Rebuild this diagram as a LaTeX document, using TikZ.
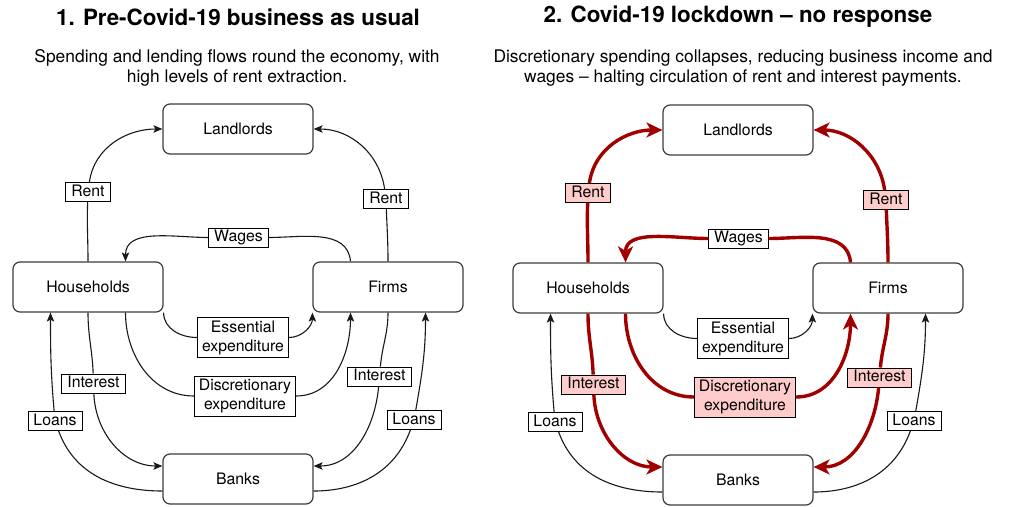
\documentclass[tikz,border=0pt]{standalone}
\usepackage{fontspec}
\setmainfont{TeX Gyre Heros}
\usetikzlibrary{arrows.meta}
\definecolor{hotred}{RGB}{160,0,0}
\definecolor{hotfill}{RGB}{255,204,204}
\definecolor{boxline}{RGB}{60,60,60}
\newcommand{\flowfont}{\fontsize{15.8}{19}\selectfont}

\begin{document}
\begin{tikzpicture}[x=1pt, y=-1pt, >={Stealth[length=9pt,width=7.5pt,inset=2pt]},
    sector/.style={draw=boxline, line width=1.2pt, rounded corners=7pt, fill=white,
      minimum width=150pt, minimum height=50pt, font=\flowfont},
    lbl/.style={draw, line width=0.9pt, fill=white, font=\flowfont,
      inner xsep=5.5pt, inner ysep=2pt, text height=11.5pt, text depth=3.5pt},
    lbltwo/.style={draw, line width=0.9pt, fill=white, font=\flowfont,
      inner xsep=4.5pt, inner ysep=3pt, align=center},
    flow/.style={draw=black!90, line width=1.1pt},
    hot/.style={draw=hotred, line width=3.4pt, >={Stealth[length=16pt,width=15pt,inset=4.5pt]}},
    title/.style={font=\fontsize{22.4}{26}\selectfont\bfseries},
    subtitle/.style={font=\fontsize{17.4}{20}\selectfont, align=center}]
  \useasboundingbox (0,0) rectangle (1009,506);

  % titles
  \node [title] (title1) at (238,17) {1. Pre-Covid-19 business as usual};
  \node [subtitle] (sub1) at (237,68) {Spending and lending flows round the economy, with\\high levels of rent extraction.};
  \node [title] (title2) at (738,17) {2. Covid-19 lockdown -- no response};
  \node [subtitle] (sub2) at (743,68) {Discretionary spending collapses, reducing business income and\\wages -- halting circulation of rent and interest payments.};

  % panel 1: business as usual
  \begin{scope}
    \node [sector] (land1) at (238,129) {Landlords};
    \node [sector] (hh1) at (88,287) {Households};
    \node [sector] (firm1) at (388,287) {Firms};
    \node [sector] (bank1) at (238,479) {Banks};

    \node [lbl] (rentA1) at (88,192) {Rent};
    \node [lbl] (rentB1) at (386,199) {Rent};
    \node [lbl] (wage1) at (238.5,237.5) {Wages};
    \node [lbltwo] (ess1) at (243,337.5) {Essential\\expenditure};
    \node [lbltwo] (disc1) at (245,396) {Discretionary\\expenditure};
    \node [lbl] (intA1) at (93.5,383.5) {Interest};
    \node [lbl] (intB1) at (379.5,376.5) {Interest};
    \node [lbl] (loanA1) at (55,421) {Loans};
    \node [lbl] (loanB1) at (414,420) {Loans};

    \draw [flow] (hh1.north) to[out=90,in=-92] (rentA1);
    \draw [flow,->] (rentA1) to[out=82,in=180] (land1.west);
    \draw [flow] (firm1.north) to[out=90,in=-88] (rentB1);
    \draw [flow,->] (rentB1) to[out=98,in=0] (land1.east);
    \draw [flow] ([xshift=-37.5pt]firm1.north) to[out=95,in=0] (wage1);
    \draw [flow,->] (wage1) to[out=180,in=90] ([xshift=37.5pt]hh1.north);
    \draw [flow] (hh1.south east) to[out=-90,in=180] (ess1);
    \draw [flow,->] (ess1) to[out=0,in=-90] (firm1.south west);
    \draw [flow] ([xshift=37.5pt]hh1.south) to[out=-90,in=180] (disc1);
    \draw [flow,->] (disc1) to[out=0,in=-90] ([xshift=-37.5pt]firm1.south);
    \draw [flow] (hh1.south) to[out=-90,in=92] (intA1);
    \draw [flow,->] (intA1) to[out=-88,in=180] ([yshift=13pt]bank1.west);
    \draw [flow] ([yshift=-12pt]bank1.west) to[out=180,in=-70] (loanA1);
    \draw [flow,->] (loanA1) to[out=95,in=-90] ([xshift=-37.5pt]hh1.south);
    \draw [flow] (firm1.south) to[out=-90,in=85] (intB1);
    \draw [flow,->] (intB1) to[out=-95,in=0] ([yshift=13pt]bank1.east);
    \draw [flow] ([yshift=-12pt]bank1.east) to[out=0,in=-110] (loanB1);
    \draw [flow,->] (loanB1) to[out=80,in=-90] ([xshift=37.5pt]firm1.south);
  \end{scope}

  % panel 2: lockdown, red flows stall
  \begin{scope}[shift={(500,1)}]
    \node [sector] (land2) at (238,129) {Landlords};
    \node [sector] (hh2) at (88,287) {Households};
    \node [sector] (firm2) at (388,287) {Firms};
    \node [sector] (bank2) at (238,479) {Banks};

    \node [lbl, fill=hotfill] (rentA2) at (88,192) {Rent};
    \node [lbl, fill=hotfill] (rentB2) at (386,199) {Rent};
    \node [lbl] (wage2) at (238.5,237.5) {Wages};
    \node [lbltwo] (ess2) at (243,337.5) {Essential\\expenditure};
    \node [lbltwo, fill=hotfill] (disc2) at (245,396) {Discretionary\\expenditure};
    \node [lbl, fill=hotfill] (intA2) at (93.5,383.5) {Interest};
    \node [lbl, fill=hotfill] (intB2) at (379.5,376.5) {Interest};
    \node [lbl] (loanA2) at (55,421) {Loans};
    \node [lbl] (loanB2) at (414,420) {Loans};

    \draw [hot] (hh2.north) to[out=90,in=-92] (rentA2);
    \draw [hot,->] (rentA2) to[out=82,in=180] (land2.west);
    \draw [hot] (firm2.north) to[out=90,in=-88] (rentB2);
    \draw [hot,->] (rentB2) to[out=98,in=0] (land2.east);
    \draw [hot] ([xshift=-37.5pt]firm2.north) to[out=95,in=0] (wage2);
    \draw [hot,->] (wage2) to[out=180,in=90] ([xshift=37.5pt]hh2.north);
    \draw [flow] (hh2.south east) to[out=-90,in=180] (ess2);
    \draw [flow,->] (ess2) to[out=0,in=-90] (firm2.south west);
    \draw [hot] ([xshift=37.5pt]hh2.south) to[out=-90,in=180] (disc2);
    \draw [hot,->] (disc2) to[out=0,in=-90] ([xshift=-37.5pt]firm2.south);
    \draw [hot] (hh2.south) to[out=-90,in=92] (intA2);
    \draw [hot,->] (intA2) to[out=-88,in=180] ([yshift=13pt]bank2.west);
    \draw [flow] ([yshift=-12pt]bank2.west) to[out=180,in=-70] (loanA2);
    \draw [flow,->] (loanA2) to[out=95,in=-90] ([xshift=-37.5pt]hh2.south);
    \draw [hot] (firm2.south) to[out=-90,in=85] (intB2);
    \draw [hot,->] (intB2) to[out=-95,in=0] ([yshift=13pt]bank2.east);
    \draw [flow] ([yshift=-12pt]bank2.east) to[out=0,in=-110] (loanB2);
    \draw [flow,->] (loanB2) to[out=80,in=-90] ([xshift=37.5pt]firm2.south);
  \end{scope}
\end{tikzpicture}
\end{document}
